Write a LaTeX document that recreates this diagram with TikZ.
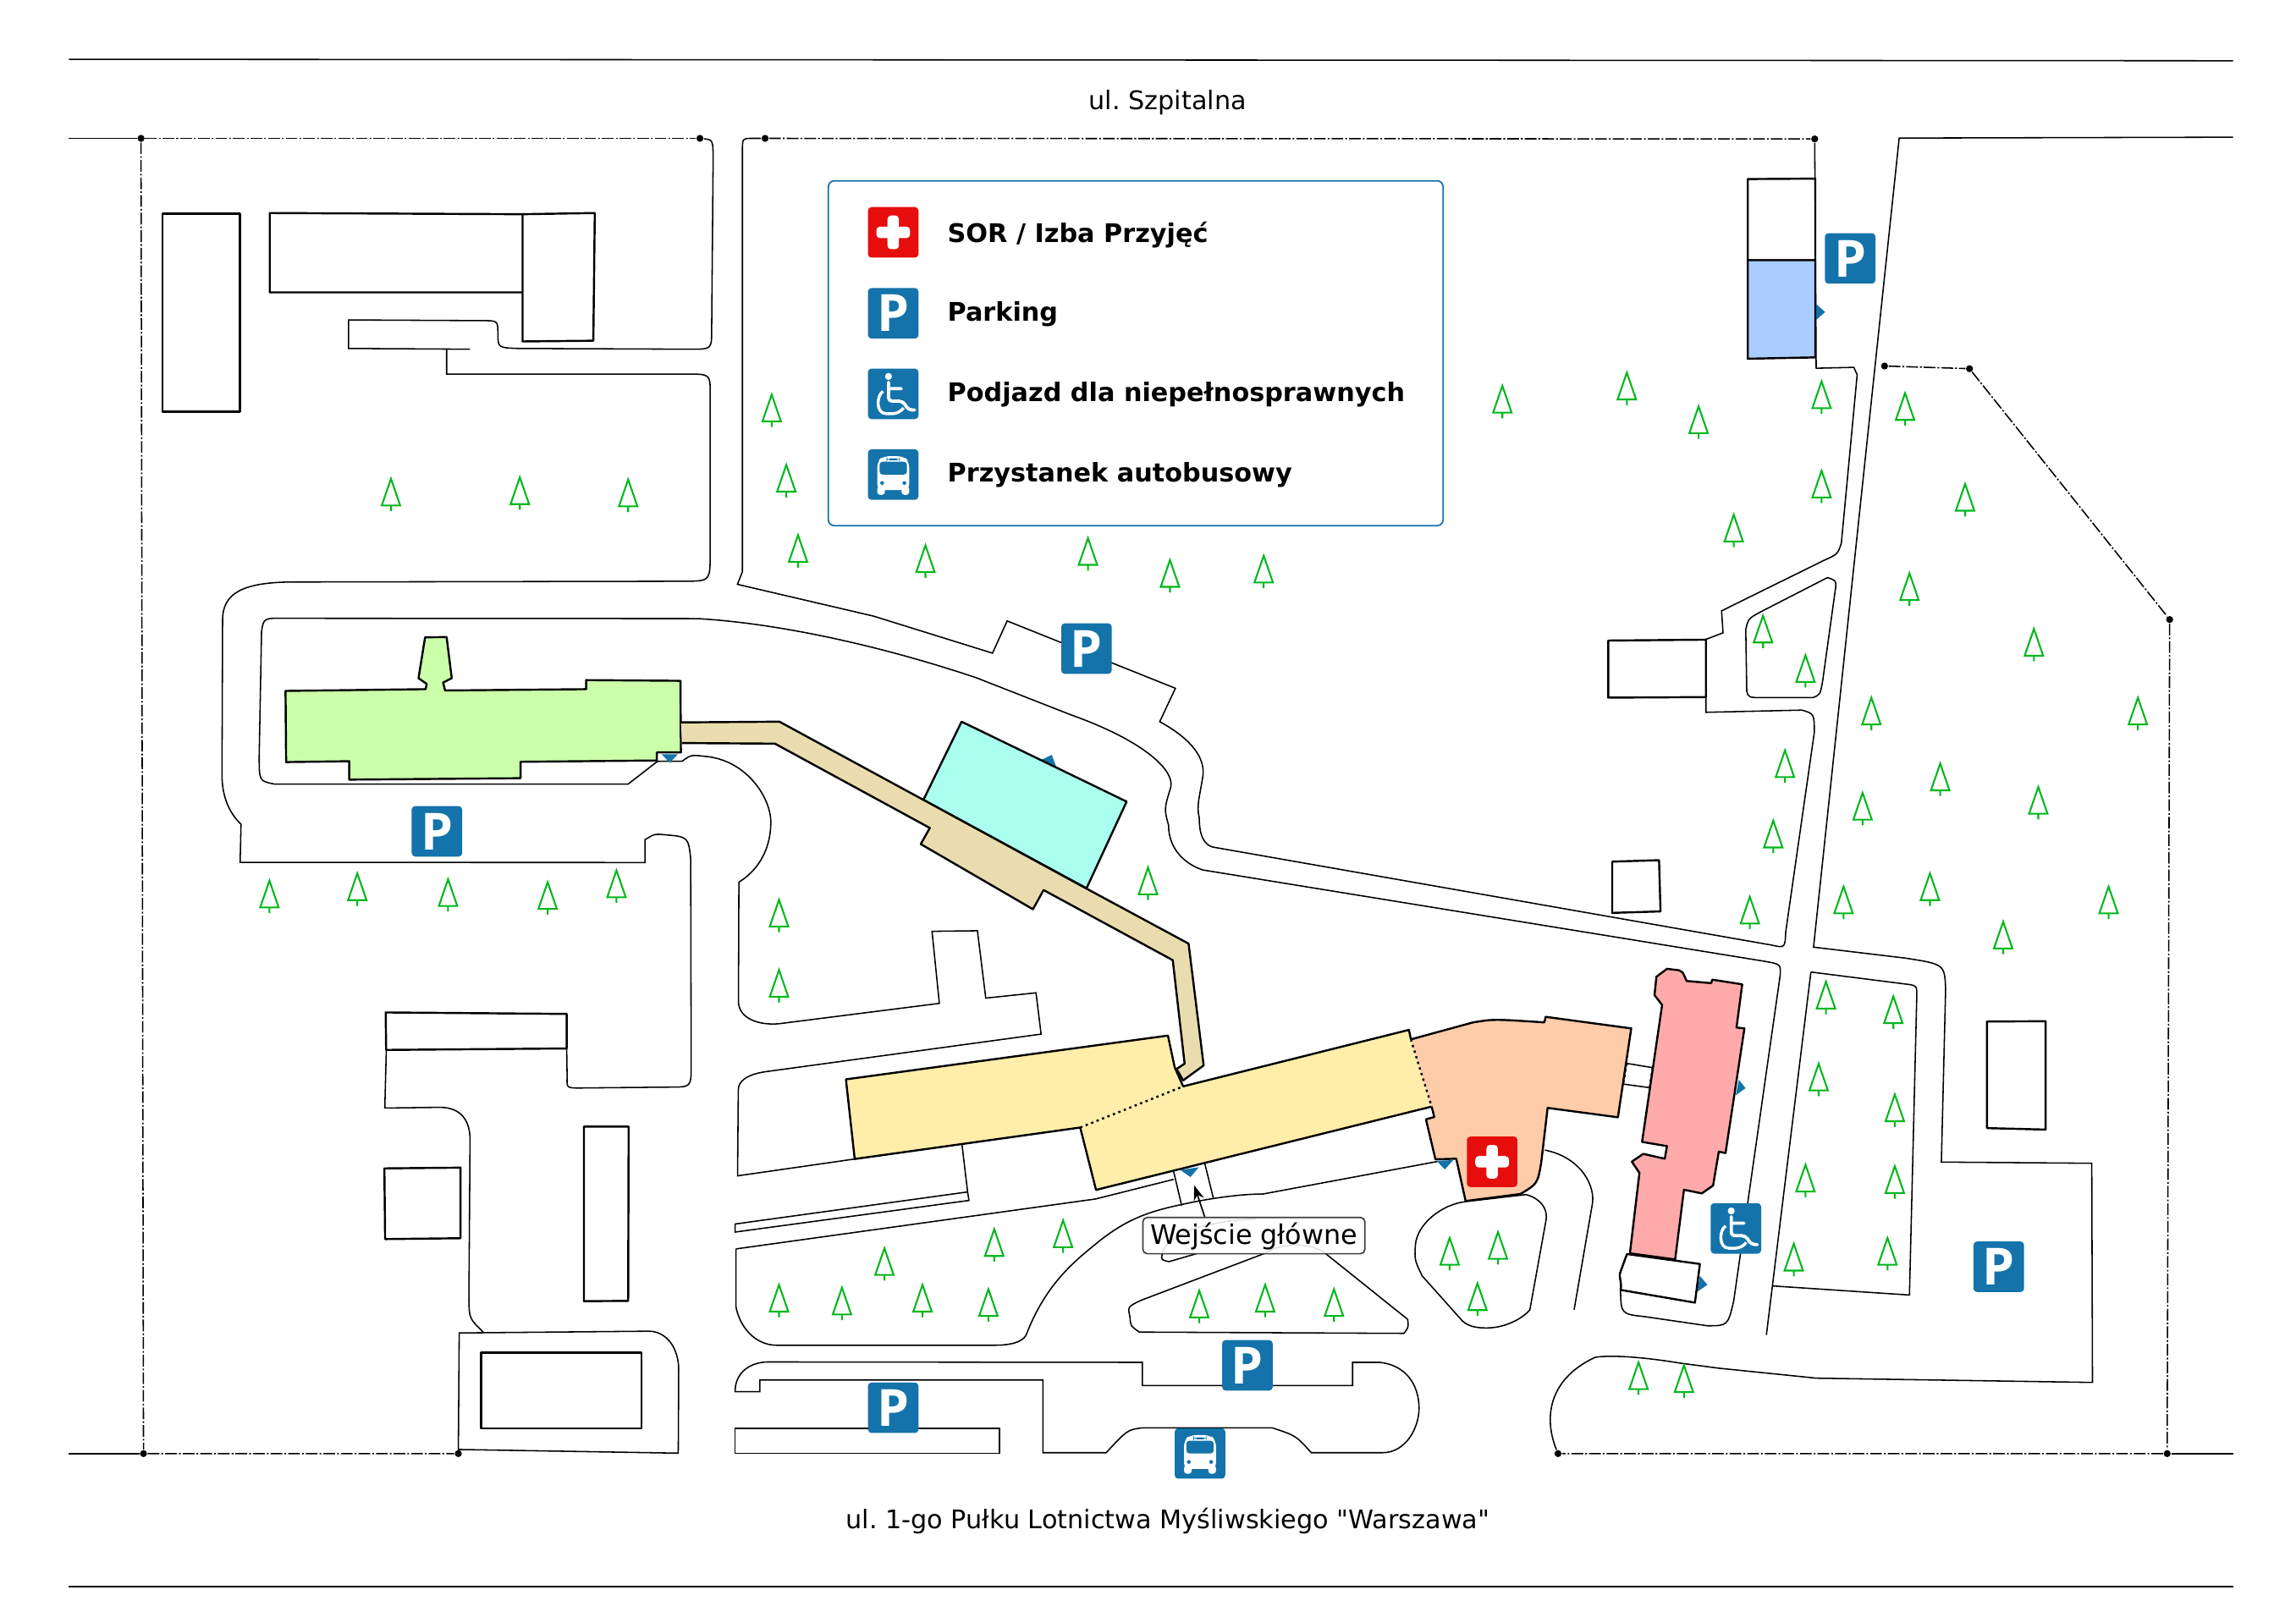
\documentclass[tikz,border=0pt]{standalone}
\usepackage{fontspec}
\setmainfont{DejaVu Sans}[Ligatures=TeXOff]
\newfontfamily\signfont{Open Sans}[Ligatures=TeXOff]
\frenchspacing
\usetikzlibrary{arrows.meta}
\definecolor{signblue}{HTML}{1373AA}
\definecolor{signred}{HTML}{E60D0D}
\definecolor{treegreen}{HTML}{00B71C}
\begin{document}
\begin{tikzpicture}[x=0.5pt,y=-0.5pt]
\tikzstyle{road}=[black, line width=0.45pt]
\tikzstyle{house}=[black, line width=0.7pt, line join=round]
\tikzstyle{street}=[black, line width=0.45pt]
\tikzstyle{fenceline}=[black, line width=0.45pt, dash pattern=on 4pt off 0.7pt on 0.6pt off 0.7pt]
\tikzstyle{fence}=[circle, fill=black, inner sep=0, minimum size=2.4pt]
\tikzstyle{seam}=[black, line width=0.7pt, dash pattern=on 0.8pt off 1.2pt]
\tikzstyle{tree}=[inner sep=0, minimum width=8pt, minimum height=12.5pt, path picture={
  \draw[treegreen, line width=0.6pt, shift={(path picture bounding box.center)}] (0,-11) -- (6.3,7.3) -- (-6.3,7.3) -- cycle (0,7.3) -- (0,11.2);}]
\tikzstyle{sign}=[rectangle, rounded corners=1.2pt, fill=signblue, inner sep=0, minimum size=17.25pt]
\tikzstyle{parksign}=[sign, text=white, font=\fontsize{17.5}{17.5}\signfont\bfseries\selectfont]
\tikzstyle{medsign}=[sign, fill=signred, path picture={
  \fill[white, shift={(path picture bounding box.center)}] (-11.5,-3.9) rectangle (11.5,3.9) (-3.9,-11.5) rectangle (3.9,11.5);}]
\tikzstyle{wheelsign}=[sign, path picture={
  \begin{scope}[shift={(path picture bounding box.center)}]
  \fill[white] (-3.2,-11.9) circle (2.4);
  \draw[white, line width=1.1pt, line join=round, line cap=round] (-3.2,-8) -- (-3.2,5) -- (6.5,5) -- (10.5,11) -- (14.6,11) (-3.2,-3.6) -- (5.5,-3.6);
  \draw[white, line width=1pt] (-7,-1.7) .. controls (-11.5,1) and (-12,13.5) .. (-2.5,13.5) .. controls (2,13.5) and (5.5,12) .. (7,9.6);
  \end{scope}}]
\tikzstyle{bussign}=[sign, path picture={
  \begin{scope}[shift={(path picture bounding box.center)}]
  \fill[white, rounded corners=2pt] (-10.9,10.6) -- (-10.9,-9) -- (-7,-12.5) -- (7,-12.5) -- (10.9,-9) -- (10.9,10.6) -- cycle;
  \fill[white, rounded corners=1pt] (-10.9,8) rectangle (-5.7,13.9) (5.7,8) rectangle (10.9,13.9);
  \fill[signblue, rounded corners=1pt] (-9.3,-8.7) rectangle (9.3,0);
  \fill[signblue] (-4.5,-11) rectangle (4.5,-9.7) (-7.6,5.8) circle (1.3) (7.6,5.8) circle (1.3);
  \end{scope}}]
\tikzstyle{streetname}=[inner sep=0, font=\fontsize{8.75}{10}\selectfont]
\tikzstyle{legendtext}=[anchor=base west, inner sep=0, font=\fontsize{8.75}{10}\bfseries\selectfont]
\tikzstyle{entrybox}=[draw=black!75, fill=white, fill opacity=0.88, text opacity=1, line width=0.5pt, rounded corners=1.5pt, inner sep=0, minimum width=75.8pt, minimum height=12.4pt, text height=7.1pt, text depth=1pt, font=\fontsize{9.2}{10}\selectfont]

\useasboundingbox (0,-0.5) rectangle (1568,1108);

\coordinate (w1) at (47,94);
\coordinate (w2) at (47,992.3);
\coordinate (e2) at (1525,992.3);
\node (f1) at (96.3,94) [fence] {};
\node (f2) at (478,94) [fence] {};
\node (f3) at (522.5,94) [fence] {};
\node (f4) at (1239.3,94.4) [fence] {};
\node (f5) at (1287,249.5) [fence] {};
\node (f6) at (1345,251.3) [fence] {};
\node (f7) at (1481.7,422.6) [fence] {};
\node (f8) at (1480,992.3) [fence] {};
\node (f9) at (1064,992.3) [fence] {};
\node (f10) at (313,992.3) [fence] {};
\node (f11) at (98,992.3) [fence] {};

\draw[street] (47,40) -- (1525,41);
\draw[street] (47,1083) -- (1525,1083);
\draw[street] (w1) -- (f1);
\draw[street] (w2) -- (f11);
\draw[street] (f8) -- (e2);
\draw[fenceline] (f1) -- (f2);
\draw[fenceline] (f3) -- (f4);
\draw[fenceline] (f5) -- (f6) -- (f7) -- (f8) -- (f9);
\draw[fenceline] (f1) -- (f11) -- (f10);

\draw[road] (f2) .. controls (487,95) .. (487,110) -- (486,225) .. controls (486,238) .. (472,238) -- (354,237.5) .. controls (340,237) .. (340,227) .. controls (340,218.5) .. (329,218.5) -- (238,218) -- (238,237.5) -- (321,238);
\draw[road] (305,238) -- (305,255) -- (469,255) .. controls (485,255) .. (485,268) -- (485,376) .. controls (485,396) .. (471,396.5) -- (201,397) .. controls (165,397) and (152,405) .. (152,423) -- (151.6,530) .. controls (152,545) and (157,555) .. (164.6,562.5) -- (164,588.5) -- (440.5,588.6) -- (440.5,573) .. controls (447,569) .. (453.5,569.6) .. controls (470,571) .. (471.7,586) -- (472,728) .. controls (472,742) .. (457,742) -- (396,742.6) .. controls (387,742.6) .. (387.3,735) -- (387,715.6);
\draw[road] (263.8,716.8) -- (262.8,756.3) -- (300.3,755.8) .. controls (315,755.8) and (321,765) .. (321,778) -- (320.2,887.5) .. controls (320.5,900) .. (330,909.3);
\draw[road] (f10) -- (313.6,909.9) -- (443,908.7) .. controls (455,908.7) and (463.5,920) .. (463.5,935) -- (463.2,992) -- cycle;
\draw[road] (449,519.5) -- (429,535) -- (187.4,535) .. controls (177,533) .. (177,516) -- (178.6,431) .. controls (180,421.5) .. (196,421.8) -- (476,422) .. controls (530,425) and (600,440) .. (666.7,462.4) -- (731,487.6) .. controls (780,505) and (802,525) .. (799.6,537) .. controls (795,552) .. (798,563) .. controls (798,580) and (810,590) .. (821.5,593.7) -- (1204.7,656) .. controls (1216,658) .. (1215.8,665) -- (1184,888) .. controls (1180,905) .. (1166,905) -- (1123.5,898.8) .. controls (1107,897) .. (1106.7,880.5);
\draw[road] (449,519.5) -- (465.8,519.4) .. controls (472,515) .. (480.5,516) .. controls (510,518) and (527,545) .. (526.4,562) .. controls (526,582) and (516,595) .. (504.6,602) -- (504.3,683) .. controls (504,695) and (518,700) .. (532,698.7) -- (641.5,684.8) -- (636.5,635.6) -- (667.5,635.2) -- (673.2,681.2) -- (707.5,677.6) -- (711,705.8) -- (524.8,731.2) .. controls (510,733) and (504,738) .. (504.2,744) -- (503.7,802.6) -- (583.7,791.1);
\draw[road] (f3) -- (513,94) .. controls (507,94) .. (507,103) -- (507,390) -- (503.6,398.6) -- (596.5,420.3) -- (677.8,445.6) -- (687.8,423.6) -- (802.7,469.6) -- (792,492.4) .. controls (815,505) and (823,518) .. (821.5,529.5) .. controls (819,545) and (817,550) .. (819,558) .. controls (819,570) and (822,576) .. (828,578) -- (1209.9,645) .. controls (1219,647) .. (1219.5,636) -- (1239,500) .. controls (1239,487) .. (1230.6,484.5) -- (1165,486) -- (1165,476);
\draw[road] (f4) -- (1240.3,251) -- (1266,250.4) -- (1268.3,255.4) -- (1257.5,370.4) .. controls (1255,378) .. (1245.7,382.2) -- (1175.7,416.7) -- (1176.7,431.7) -- (1165,436.2);
\draw[road] (1248,394) .. controls (1254,396) .. (1253.5,401.4) -- (1244.7,464.8) .. controls (1243,474) .. (1238,476) -- (1205.3,476) .. controls (1194,476) .. (1192.9,471.5) -- (1192.2,429.4) .. controls (1194,422) .. (1202,417.6) -- cycle;
\draw[road] (1525,93.2) -- (1297,93.8) -- (1238.5,646.4) -- (1300.5,653.8) .. controls (1328,658) .. (1328.7,675) -- (1325.8,793.2) -- (1428.5,794) -- (1429,943.7) -- (1240.6,940.8) -- (1174,934) -- (1148,930.6) .. controls (1120,926) and (1100,925) .. (1089.5,926.5) .. controls (1060,940) and (1053,965) .. (f9);
\draw[road] (1236.7,663.4) -- (1304.5,672) .. controls (1309,673) .. (1309,680) -- (1304,884) -- (1210.7,877.8);
\draw[road] (1236.7,663.4) -- (1206.3,911.3);
\draw[road] (1055,785) .. controls (1080,790) and (1090,810) .. (1087.3,822.7) -- (1075,894);
\draw[road] (657,781.5) -- (660.8,813.6) -- (502,835.5) -- (502,841) -- (661.7,819.4) -- (660.8,813.6);
\draw[road] (502.6,852.5) -- (748.2,818.4) -- (801.5,805);
\draw[road] (502.6,852.5) -- (502.6,892) .. controls (505,905) and (515,918.3) .. (530.5,918.3) -- (679.3,918.3) .. controls (695,918.3) and (700,914) .. (701.2,910.2) .. controls (715,875) and (735,860) .. (751.3,846.7) .. controls (770,832) and (785,827) .. (804.6,822.7) .. controls (830,817) and (850,815) .. (862.6,815) -- (981.6,792.8);
\draw[road] (801.5,799.6) -- (807,823);
\draw[road] (822.8,794.2) -- (828.7,818.2);
\draw[road] (864.1,855.4) -- (779.5,887.5) .. controls (770,892) .. (771.7,899) .. controls (772,905) .. (778,909.3) -- (958.7,910.2) .. controls (962,906) .. (961.3,900.6) -- (904.9,855.4) .. controls (895,848) and (875,848) .. (864.1,855.4);
\draw[road] (817,855.8) -- (798.3,861.2) .. controls (793,860) .. (793.6,856.3) .. controls (794,850) and (805,842) .. (817,838) .. controls (840,833) .. (858,832);
\draw[road] (502,950) .. controls (502,937) and (512,930) .. (524.2,929.7) -- (780.2,930) -- (780.2,945.8) -- (923.7,945.8) -- (923.7,930) -- (942.5,930) .. controls (960,932) and (969,945) .. (969.1,961.3) .. controls (969,975) and (960,991.7) .. (944,991.7) -- (895.5,991.7) .. controls (885,980) .. (868.8,974.7) -- (780.2,974.7) .. controls (770,976) .. (755.4,991.7) -- (712.2,991.7) -- (712.2,942) -- (518.9,942) -- (518.9,950) -- cycle;
\draw[road] (502,975) rectangle (682.7,992);
\draw[road] (1000.9,820.2) -- (1042.2,815.4) .. controls (1052,818) and (1057,825) .. (1055.9,832.4) -- (1044.8,894) .. controls (1040,900) and (1028,906.5) .. (1015.1,906.5) .. controls (1007,906.5) and (1001,905) .. (997,899.8) -- (971.2,870.9) .. controls (966,860) .. (966.6,849.7) .. controls (968,835) and (985,822) .. (1000.9,820.2);
\draw[road] (1111,725.8) -- (1128.6,728.7);
\draw[road] (1108.5,739.9) -- (1126.6,742.4);

\fill[signblue] (710.6,518.7) -- (718.3,515.1) -- (721.4,523.5) -- cycle;
\fill[signblue] (806,798.6) -- (818.7,796.7) -- (813,803.4) -- cycle;
\fill[signblue] (1239.7,206.7) -- (1246.4,212.6) -- (1239.7,218.5) -- cycle;
\fill[signblue] (451.8,514.6) -- (463,514.6) -- (457.3,520.5) -- cycle;
\fill[signblue] (981,792.3) -- (992.4,791.9) -- (986.7,798.2) -- cycle;
\fill[signblue] (1187.5,737) -- (1192.1,742.7) -- (1185.4,747.6) -- cycle;
\fill[signblue] (1160.9,870.9) -- (1166,877) -- (1158.8,882) -- cycle;

\draw[house] (111,145.5) rectangle (163.9,280.7);
\draw[house] (356.9,145.8) -- (184.2,145) -- (184.2,199.2) -- (356.9,199.2);
\draw[house] (356.9,145.8) -- (406.2,145) -- (405.2,232.2) -- (356.9,232.7) -- cycle;
\draw[house] (263.4,691) -- (387,692) -- (387,715.6) -- (263.7,716.6) -- cycle;
\draw[house] (262.5,797.5) -- (314.5,797) -- (314.5,845.2) -- (263,845.8) -- cycle;
\draw[house] (398.8,769) -- (429.3,769) -- (429,888) -- (398.8,888.2) -- cycle;
\draw[house] (328.5,923.3) rectangle (438,975);
\draw[house] (1193.6,121.8) -- (1239.7,121.5) -- (1239.7,177.2) -- (1193.6,177.2) -- cycle;
\draw[house, fill={rgb,255:red,170;green,204;blue,255}] (1193.6,177.2) -- (1239.7,177.2) -- (1239.7,243.6) -- (1193.6,244.5) -- cycle;
\draw[house] (1098.3,437) -- (1165,436.4) -- (1165,475.6) -- (1098.3,476) -- cycle;
\draw[house] (1101,588) -- (1133,587) -- (1134,622) -- (1101,623) -- cycle;
\draw[house] (1357,697.2) -- (1397,697) -- (1397,771) -- (1357,770) -- cycle;

\draw[house, fill={rgb,255:red,204;green,255;blue,170}] (195,471.4) -- (290.7,470.2) -- (291.4,466.6) -- (285.8,462.7) -- (290.3,434.8) -- (305,434.6) -- (308.5,462.7) -- (302.6,465.7) -- (304,471.1) -- (400.3,470.2) -- (400.3,464) -- (464.7,464.5) -- (465,513.4) -- (448.6,513.4) -- (448.6,518.9) -- (355.5,519.8) -- (355.5,531) -- (238.5,532) -- (238.5,519.4) -- (195.4,520) -- cycle;
\draw[house, fill={rgb,255:red,170;green,255;blue,238}] (656.7,492.4) -- (769.4,547) -- (742,606.2) -- (630.6,545.8) -- cycle;
\draw[house, fill={rgb,255:red,233;green,221;blue,175}] (465,492.9) -- (532.3,492.4) -- (630.6,545.8) -- (741.6,606.2) -- (811.7,644) -- (822,727.2) -- (808,737.4) -- (803.5,729.6) -- (809,726) -- (800.9,655.3) -- (712.7,607.4) -- (705.4,620.5) -- (628.8,576) -- (635,565) -- (529.2,507.4) -- (465.8,507);
\draw[house, fill={rgb,255:red,255;green,238;blue,170}] (977.7,755.3) -- (748.5,812.2) -- (737.7,769.6) -- (583.7,791.1) -- (577.7,736.7) -- (797.6,706.8) -- (802.2,728.4) -- (808,741.5) -- (962.2,702.9) -- (963.5,709.4);
\draw[seam] (737.7,769.6) -- (808,741.5);
\draw[house, fill={rgb,255:red,255;green,204;blue,170}] (963.5,709.4) -- (1006,697.8) .. controls (1020,695.5) .. (1054.6,697.8) -- (1055.6,694) -- (1114,701.9) -- (1104.9,762.6) -- (1056.9,756.2) -- (1052.5,793.8) .. controls (1050,808) .. (1038.3,815) -- (1000.9,819.8) -- (994.5,790.9) -- (980.3,791.3) -- (973.8,764) -- (979.5,762.4) -- (977.7,755.3);
\draw[seam] (963.5,709.4) -- (977.7,755.3);
\draw[seam] (1111,725.8) -- (1108.5,739.9);
\draw[seam] (1128.6,728.7) -- (1126.6,742.4);
\draw[house, fill={rgb,255:red,255;green,170;blue,170}] (1138.4,661.2) -- (1146.7,662.2) .. controls (1149,663) .. (1151.8,669.5) -- (1168.6,671) -- (1169.4,668.6) -- (1189.8,671.8) -- (1185.9,701.3) -- (1191.3,701.9) -- (1178.4,787) -- (1173.8,786.1) -- (1169.9,809.2) -- (1162.2,814.6) -- (1150,812.1) -- (1144,859.7) -- (1113.1,855.5) -- (1119.6,800.6) -- (1114.4,792.9) -- (1122.2,787.6) -- (1136.9,790.9) -- (1138.4,782.3) -- (1121.4,779.4) -- (1135.1,685.9) -- (1129.9,679.2) -- (1131.2,666.6) -- cycle;
\draw[house, fill=white] (1111.1,856) -- (1160.9,862.8) -- (1157.5,889.2) -- (1106.7,880.5) .. controls (1108,875) and (1105,872) .. (1106.7,868) -- cycle;

\node (t1) at (267,337.5) [tree] {};
\node (t2) at (355,336.5) [tree] {};
\node (t3) at (429,338) [tree] {};
\node (t4) at (527,280) [tree] {};
\node (t5) at (537,328) [tree] {};
\node (t6) at (545,376) [tree] {};
\node (t7) at (632,383) [tree] {};
\node (t8) at (743,378) [tree] {};
\node (t9) at (799,393) [tree] {};
\node (t10) at (863,390) [tree] {};
\node (t11) at (1026,274) [tree] {};
\node (t12) at (1111,265) [tree] {};
\node (t13) at (1160,288) [tree] {};
\node (t14) at (1244,271) [tree] {};
\node (t15) at (1301,279) [tree] {};
\node (t16) at (1244,332) [tree] {};
\node (t17) at (1342,341) [tree] {};
\node (t18) at (1184,362) [tree] {};
\node (t19) at (1304,402) [tree] {};
\node (t20) at (1204,431) [tree] {};
\node (t21) at (1389,440) [tree] {};
\node (t22) at (1233,458) [tree] {};
\node (t23) at (1278,487) [tree] {};
\node (t24) at (1460,487) [tree] {};
\node (t25) at (1219,523) [tree] {};
\node (t26) at (1325,532) [tree] {};
\node (t27) at (1392,548) [tree] {};
\node (t28) at (1272,552) [tree] {};
\node (t29) at (1211,571) [tree] {};
\node (t30) at (1318,607) [tree] {};
\node (t31) at (1195,623) [tree] {};
\node (t32) at (1259,616) [tree] {};
\node (t33) at (1440,616) [tree] {};
\node (t34) at (1368,640) [tree] {};
\node (t35) at (184,612) [tree] {};
\node (t36) at (244,607) [tree] {};
\node (t37) at (306,611) [tree] {};
\node (t38) at (374,613) [tree] {};
\node (t39) at (421,605) [tree] {};
\node (t40) at (532,625) [tree] {};
\node (t41) at (532,673) [tree] {};
\node (t42) at (784,603) [tree] {};
\node (t43) at (532,888) [tree] {};
\node (t44) at (575,890) [tree] {};
\node (t45) at (604,863) [tree] {};
\node (t46) at (630,888) [tree] {};
\node (t47) at (675,891) [tree] {};
\node (t48) at (679,850) [tree] {};
\node (t49) at (726,844) [tree] {};
\node (t50) at (819,892) [tree] {};
\node (t51) at (864,888) [tree] {};
\node (t52) at (911,891) [tree] {};
\node (t53) at (990,856) [tree] {};
\node (t54) at (1023,852) [tree] {};
\node (t55) at (1009,887) [tree] {};
\node (t56) at (1247,681) [tree] {};
\node (t57) at (1293,691) [tree] {};
\node (t58) at (1242,737) [tree] {};
\node (t59) at (1294,758) [tree] {};
\node (t60) at (1233,806) [tree] {};
\node (t61) at (1294,807) [tree] {};
\node (t62) at (1225,860) [tree] {};
\node (t63) at (1289,856) [tree] {};
\node (t64) at (1119,941) [tree] {};
\node (t65) at (1150,943) [tree] {};

\node (p1) at (1263.5,176) [parksign] {P};
\node (p2) at (742,442.5) [parksign] {P};
\node (p3) at (298.4,567.3) [parksign] {P};
\node (p4) at (851.9,932) [parksign] {P};
\node (p5) at (610,961) [parksign] {P};
\node (p6) at (1365,864.7) [parksign] {P};
\node (m1) at (1019,793) [medsign] {};
\node (w3) at (1185.5,838.5) [wheelsign] {};
\node (b1) at (819.5,992.2) [bussign] {};

\node (entry) at (856.3,843.4) [entrybox] {Wejście główne};
\coordinate (door) at (815.6,809.2);
\draw[black, line width=0.5pt, -{Stealth[length=5pt,width=3.6pt]}] (entry.159) -- (door);

\draw[draw=signblue, fill=white, line width=0.5pt, rounded corners=2pt] (565.7,123) rectangle (985.5,358.5);
\node (lm) at (610,158.2) [medsign] {};
\node (lp) at (610,213.5) [parksign] {P};
\node (lw) at (610,268.5) [wheelsign] {};
\node (lb) at (610,323.6) [bussign] {};
\node (l1) at (646.7,165) [legendtext] {SOR / Izba Przyjęć};
\node (l2) at (646.7,218.8) [legendtext] {Parking};
\node (l3) at (646.7,273.7) [legendtext] {Podjazd dla niepełnosprawnych};
\node (l4) at (646.7,328.7) [legendtext] {Przystanek autobusowy};

\node (s1) at (797.5,69.5) [streetname] {ul. Szpitalna};
\node (s2) at (797.5,1038.5) [streetname] {ul. 1-go Pułku Lotnictwa Myśliwskiego "Warszawa"};
\end{tikzpicture}
\end{document}
